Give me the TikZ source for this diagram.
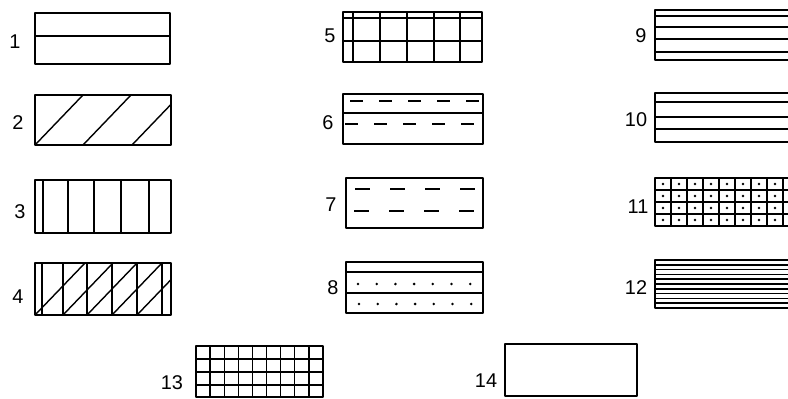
\documentclass[tikz,border=0pt]{standalone}
\usepackage{fontspec}
\setmainfont{Liberation Sans}

\begin{document}
\begin{tikzpicture}[x=0.03cm, y=-0.03cm, line join=round,
    box/.style={draw, line width=1.5pt},
    hatch/.style={line width=1.2pt},
    dashrow/.style={hatch, dash pattern=on 0.38cm off 0.49cm},
    longdash/.style={hatch, dash pattern=on 0.45cm off 0.6cm},
    num/.style={font=\fontsize{17}{19}\selectfont, inner sep=0pt}]
\clip (0,0) rectangle (788,399);

% 1: one horizontal split
\node[num] (n1) at (15,42) {1};
\draw[hatch] (35,36) -- (170,36);
\draw[box] (35,13) rectangle (170,64);

% 2: diagonal hatch
\node[num] (n2) at (18,123) {2};
\begin{scope}
  \clip (35,95) rectangle (171,145);
  \draw[hatch] (35,145) -- (83,95) (83,145) -- (131,95) (132,145) -- (180,95);
\end{scope}
\draw[box] (35,95) rectangle (171,145);

% 3: vertical strips
\node[num] (n3) at (20,212) {3};
\foreach \x in {43,68,94,121,149}
  \draw[hatch] (\x,180) -- (\x,233);
\draw[box] (35,180) rectangle (171,233);

% 4: vertical strips with diagonals
\node[num] (n4) at (18,297) {4};
\foreach \x in {42,63,87,112,137,162}
  \draw[hatch] (\x,263) -- (\x,315);
\begin{scope}
  \clip (35,263) rectangle (171,315);
  \foreach \x in {35,63,87,112,137}
    \draw[hatch] (\x,315) -- (\x+50,263);
\end{scope}
\draw[box] (35,263) rectangle (171,315);

% 5: grid
\node[num] (n5) at (330,36) {5};
\draw[hatch] (343,18) -- (482,18) (343,41) -- (482,41);
\foreach \x in {353,380,407,434,460}
  \draw[hatch] (\x,12) -- (\x,62);
\draw[box] (343,12) rectangle (482,62);

% 6: split with dashes
\node[num] (n6) at (328,123) {6};
\draw[hatch] (343,113) -- (483,113);
\draw[dashrow] (350,101) -- (483,101);
\draw[dashrow] (345,124) -- (483,124);
\draw[box] (343,94) rectangle (483,144);

% 7: dashes only
\node[num] (n7) at (331,205) {7};
\draw[longdash] (355,189) -- (478,189);
\draw[longdash] (354,211) -- (478,211);
\draw[box] (346,178) rectangle (483,228);

% 8: bands with dots
\node[num] (n8) at (333,288) {8};
\draw[hatch] (346,272) -- (483,272) (346,293) -- (483,293);
\foreach \k in {0,...,6} {
  \fill (358+18.7*\k,284) circle[radius=1.2pt];
  \fill (359+18.7*\k,304) circle[radius=1.2pt];
}
\draw[box] (346,262) rectangle (483,313);

% 9: four lines
\node[num] (n9) at (641,36) {9};
\foreach \y in {16,27,39,52}
  \draw[hatch] (655,\y) -- (795,\y);
\draw[box] (655,10) rectangle (795,60);

% 10: three lines
\node[num] (n10) at (636,120) {10};
\foreach \y in {102,117,129}
  \draw[hatch] (655,\y) -- (795,\y);
\draw[box] (655,93) rectangle (795,142);

% 11: grid with dots
\node[num] (n11) at (638,207) {11};
\foreach \x in {671,687,...,783}
  \draw[hatch] (\x,178) -- (\x,226);
\foreach \y in {190,202,214}
  \draw[hatch] (655,\y) -- (795,\y);
\foreach \x in {663,679,...,791}
  \foreach \y in {184,196,208,220}
    \fill (\x,\y) circle[radius=1.2pt];
\draw[box] (655,178) rectangle (795,226);

% 12: dense lines
\node[num] (n12) at (636,288) {12};
\foreach \k in {1,...,9}
  \draw[hatch] (655,260+4.8*\k) -- (795,260+4.8*\k);
\draw[box] (655,260) rectangle (795,308);

% 13: fine grid
\node[num] (n13) at (172,383) {13};
\foreach \k in {1,...,8}
  \draw[hatch] (196+14.1*\k,346) -- (196+14.1*\k,397);
\foreach \y in {359,372,385}
  \draw[hatch] (196,\y) -- (323,\y);
\draw[box] (196,346) rectangle (323,397);

% 14: empty
\node[num] (n14) at (486,381) {14};
\draw[box] (505,344) rectangle (637,396);
\end{tikzpicture}
\end{document}
